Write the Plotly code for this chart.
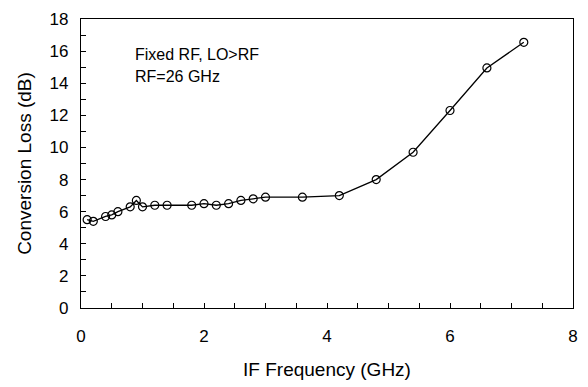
import plotly.graph_objects as go

if_freq = [0.1, 0.2, 0.4, 0.5, 0.6, 0.8, 0.9, 1.0, 1.2, 1.4, 1.8, 2.0, 2.2, 2.4,
           2.6, 2.8, 3.0, 3.6, 4.2, 4.8, 5.4, 6.0, 6.6, 7.2]
conv_loss = [5.5, 5.4, 5.7, 5.8, 6.0, 6.3, 6.7, 6.3, 6.4, 6.4, 6.4, 6.5, 6.4, 6.5,
             6.7, 6.8, 6.9, 6.9, 7.0, 8.0, 9.7, 12.3, 14.95, 16.55]
x_ticks = [0, 2, 4, 6, 8]
y_ticks = [0, 2, 4, 6, 8, 10, 12, 14, 16, 18]
note_lines = ["Fixed RF, LO>RF", "RF=26 GHz"]

FONT = "Liberation Sans, Arial, sans-serif"

fig = go.Figure()
fig.add_trace(go.Scatter(
    x=if_freq, y=conv_loss, mode="lines+markers",
    line=dict(color="black", width=1.3),
    marker=dict(symbol="circle-open", size=8, color="black", line=dict(width=1.2)),
    showlegend=False,
))

fig.add_annotation(x=0.84, y=15.8, xref="x", yref="y", text=note_lines[0],
                   showarrow=False, xanchor="left", yanchor="middle",
                   font=dict(family=FONT, size=16, color="black"))
fig.add_annotation(x=0.84, y=14.45, xref="x", yref="y", text=note_lines[1],
                   showarrow=False, xanchor="left", yanchor="middle",
                   font=dict(family=FONT, size=16, color="black"))

fig.update_layout(
    width=588, height=387,
    margin=dict(l=81, r=10, t=15, b=79),
    paper_bgcolor="white", plot_bgcolor="white",
    font=dict(family=FONT, size=17, color="black"),
    xaxis=dict(
        range=[0, 8], tickvals=x_ticks, ticktext=[str(v) for v in x_ticks],
        showgrid=False, zeroline=False,
        showline=True, linecolor="black", linewidth=1.3, mirror=True,
        ticks="inside", ticklen=5, tickwidth=1, tickcolor="black",
        minor=dict(dtick=0.5, ticks="inside", ticklen=5, tickwidth=1, tickcolor="black", showgrid=False),
        tickfont=dict(size=17), ticklabelstandoff=12,
        title=dict(text="IF Frequency (GHz)", font=dict(size=19), standoff=18),
    ),
    yaxis=dict(
        range=[0, 18], tickvals=y_ticks, ticktext=[str(v) for v in y_ticks],
        showgrid=False, zeroline=False,
        showline=True, linecolor="black", linewidth=1.3, mirror=True,
        ticks="inside", ticklen=5, tickwidth=1, tickcolor="black",
        minor=dict(dtick=1, ticks="inside", ticklen=5, tickwidth=1, tickcolor="black", showgrid=False),
        tickfont=dict(size=17), ticklabelstandoff=8,
        title=dict(text="Conversion Loss (dB)", font=dict(size=19), standoff=12),
    ),
)

fig.write_html("out.html")
